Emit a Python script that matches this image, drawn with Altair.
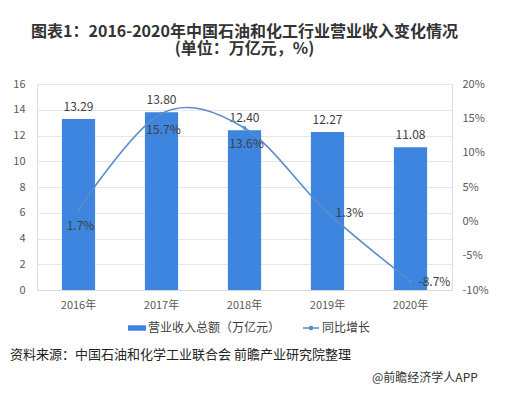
import altair as alt
import pandas as pd

years = ["2016年", "2017年", "2018年", "2019年", "2020年"]
revenue = [13.29, 13.80, 12.40, 12.27, 11.08]
growth = [1.7, 15.7, 13.6, 1.3, -8.7]
left_ticks = [0, 2, 4, 6, 8, 10, 12, 14, 16]
right_ticks = [-10, -5, 0, 5, 10, 15, 20]
bar_name = "营业收入总额（万亿元）"
line_name = "同比增长"
title_lines = ["图表1：2016-2020年中国石油和化工行业营业收入变化情况", "(单位：万亿元，%)"]
source_text = "资料来源：中国石油和化学工业联合会 前瞻产业研究院整理"
mark_text = "@前瞻经济学人APP"

FONT = "Noto Sans CJK SC"
BAR_C = "#3d85de"
LINE_C = "#5b8ccb"

df = pd.DataFrame({"year": years, "rev": revenue, "g": growth,
                   "s1": bar_name, "s2": line_name})
df["rev_lab"] = [f"{v:.2f}" for v in revenue]
df["g_lab"] = [f"{v:.1f}%" for v in growth]

x_enc = alt.X("year:N", sort=years, title=None,
              scale=alt.Scale(paddingInner=0.6, paddingOuter=0.3),
              axis=alt.Axis(labelAngle=0, ticks=False, domainColor="#d9d9d9",
                            labelColor="#595959", labelFontSize=11, labelPadding=9,
                            labelFont=FONT))
y_left = alt.Y("rev:Q", title=None,
               scale=alt.Scale(domain=[left_ticks[0], left_ticks[-1]], nice=False),
               axis=alt.Axis(values=left_ticks, domain=False, ticks=False,
                             labelOverlap=False, tickCount=len(left_ticks),
                             gridColor="#e6e6e6", labelColor="#595959", labelFontSize=11,
                             labelPadding=12, labelFont=FONT))
y_right = alt.Y("g:Q", title=None,
                scale=alt.Scale(domain=[right_ticks[0], right_ticks[-1]], nice=False),
                axis=alt.Axis(orient="right", values=right_ticks, grid=False,
                              domain=False, ticks=False, labelExpr="datum.value + '%'",
                              labelOverlap=False, tickCount=len(right_ticks),
                              labelColor="#595959", labelFontSize=11, labelPadding=10,
                              labelFont=FONT))

bars = alt.Chart(df).mark_bar(color=BAR_C).encode(
    x=x_enc, y=y_left,
    color=alt.Color("s1:N", title=None,
                    scale=alt.Scale(range=[BAR_C]),
                    legend=alt.Legend(orient="none", legendX=91, legendY=235,
                                      symbolType="M-1,-0.3H1V0.3H-1Z", symbolSize=324,
                                      symbolStrokeWidth=0, labelFontSize=12, labelOffset=2,
                                      labelColor="#404040", labelFont=FONT)))
bar_text = alt.Chart(df).mark_text(dy=-12, fontSize=12, color="#404040", font=FONT).encode(
    x=x_enc, y=y_left, text="rev_lab:N")
bar_layer = alt.layer(bars, bar_text)

line = alt.Chart(df).mark_line(interpolate="cardinal", strokeWidth=1.6).encode(
    x=x_enc, y=y_right,
    stroke=alt.Stroke("s2:N", title=None, scale=alt.Scale(range=[LINE_C]),
                      legend=alt.Legend(orient="none", legendX=265, legendY=235,
                                        symbolType="M-1,0H1M-0.2,0A0.2,0.2 0 1,0 0.2,0A0.2,0.2 0 1,0 -0.2,0",
                                        symbolSize=256, symbolStrokeWidth=1.5, labelOffset=2,
                                        symbolFillColor=LINE_C, labelFontSize=12,
                                        labelColor="#404040", labelFont=FONT)))
points = alt.Chart(df).mark_circle(size=14, color=LINE_C, opacity=1).encode(
    x=x_enc, y=y_right)
lab_below = alt.Chart(df).transform_filter(
    alt.FieldOneOfPredicate(field="year", oneOf=years[:3])
).mark_text(dy=16, dx=2, fontSize=12, color="#404040", font=FONT).encode(
    x=x_enc, y=y_right, text="g_lab:N")
lab_right = alt.Chart(df).transform_filter(
    alt.FieldOneOfPredicate(field="year", oneOf=years[3:])
).mark_text(dx=8, dy=1, align="left", fontSize=12, color="#404040", font=FONT).encode(
    x=x_enc, y=y_right, text="g_lab:N")
line_layer = alt.layer(line, points, lab_below, lab_right)

notes_df = pd.DataFrame({"t": [source_text]})
src = alt.Chart(notes_df).mark_text(align="left", baseline="middle", fontSize=13,
                                     color="#222222", font=FONT).encode(
    x=alt.value(-27), y=alt.value(271), text="t:N")
wm_df = pd.DataFrame({"t": [mark_text]})
wm = alt.Chart(wm_df).mark_text(align="left", baseline="middle", fontSize=12,
                                 color="#333333", font=FONT).encode(
    x=alt.value(335), y=alt.value(294), text="t:N")

chart = alt.layer(bar_layer, line_layer, src, wm).resolve_scale(
    y="independent", color="independent", stroke="independent"
).properties(
    width=415, height=206,
    title=alt.TitleParams(title_lines, anchor="middle", fontSize=16, fontWeight="bold",
                          font=FONT, color="#333333", lineHeight=17, offset=21),
    autosize=alt.AutoSizeParams(type="none"),
    padding={"left": 29, "top": 76, "right": 57, "bottom": 98},
).configure_view(stroke=None).configure(background="white")

chart.save("out.html", embed_options={"renderer": "svg", "actions": False})
